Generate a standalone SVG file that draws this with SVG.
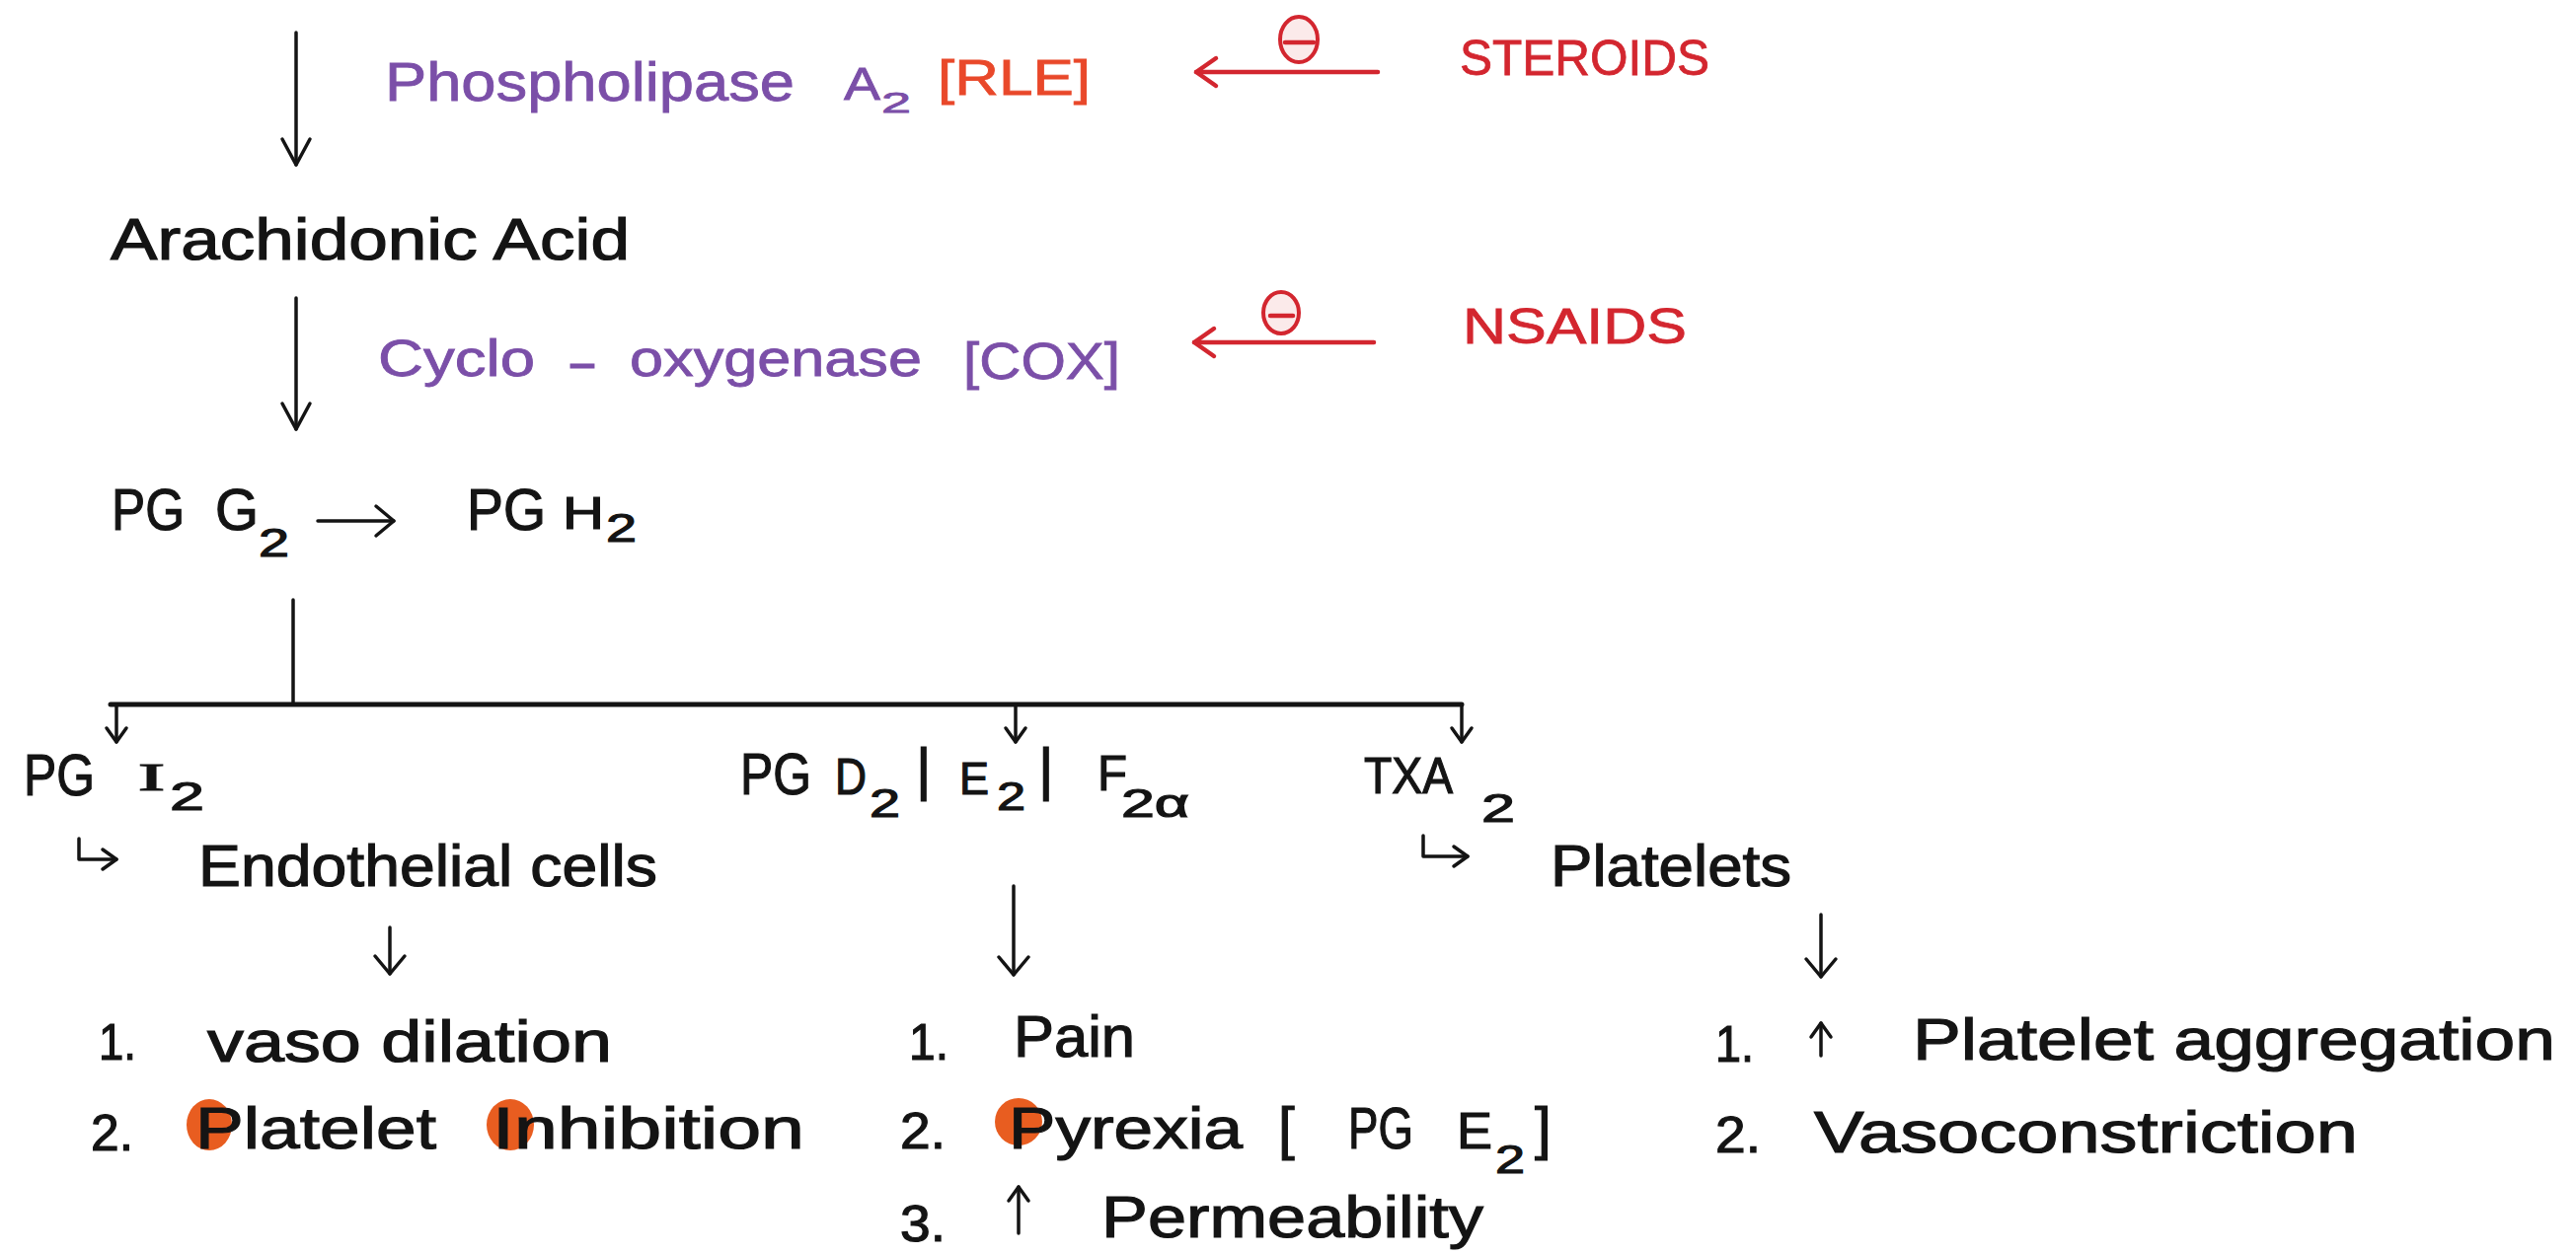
<svg xmlns="http://www.w3.org/2000/svg" width="2610" height="1271" viewBox="0 0 2610 1271">
<style>
text{font-family:"Liberation Sans",Arial,sans-serif;fill:#141414;stroke:#141414;stroke-width:1.2}
.p{fill:#7b4fa8;stroke:#7b4fa8;stroke-width:0.8}
.o{fill:#e9482a;stroke:#e9482a;stroke-width:0.8}
.r{fill:#d3262f;stroke:#d3262f;stroke-width:0.8}
.f60{font-size:60px}
.f56{font-size:56px}
.f52{font-size:52px}
.f50{font-size:50px}
.f46{font-size:46px}
.f40{font-size:40px}
.f36{font-size:36px}
.f30{font-size:30px}
.ln{fill:none;stroke:#141414;stroke-width:3.5;stroke-linecap:round;stroke-linejoin:round}
.bar{fill:none;stroke:#141414;stroke-width:5;stroke-linecap:round}
.rl{fill:none;stroke:#d3262f;stroke-width:4.5;stroke-linecap:round;stroke-linejoin:round}
.dot{fill:#e85d20}
</style>
<defs>
<marker id="ah" markerUnits="userSpaceOnUse" orient="auto" overflow="visible" markerWidth="1" markerHeight="1"><path d="M-26,-14 L0,0 L-26,14" fill="none" stroke="#141414" stroke-width="3.5" stroke-linecap="round" stroke-linejoin="round"/></marker>
<marker id="as" markerUnits="userSpaceOnUse" orient="auto" overflow="visible" markerWidth="1" markerHeight="1"><path d="M-18,-15 L0,0 L-18,15" fill="none" stroke="#141414" stroke-width="3.5" stroke-linecap="round" stroke-linejoin="round"/></marker>
<marker id="au" markerUnits="userSpaceOnUse" orient="auto" overflow="visible" markerWidth="1" markerHeight="1"><path d="M-14,-10 L0,0 L-14,10" fill="none" stroke="#141414" stroke-width="3.5" stroke-linecap="round" stroke-linejoin="round"/></marker>
<marker id="ar" markerUnits="userSpaceOnUse" orient="auto" overflow="visible" markerWidth="1" markerHeight="1"><path d="M-20,-14 L0,0 L-20,14" fill="none" stroke="#d3262f" stroke-width="4.5" stroke-linecap="round" stroke-linejoin="round"/></marker>
</defs>
<rect width="2610" height="1271" fill="#ffffff"/>

<g id="connectors">
<path class="ln" d="M300,33 V167" marker-end="url(#ah)"/>
<path class="ln" d="M300,302 V435" marker-end="url(#ah)"/>
<path class="rl" d="M1396,73 H1212" marker-end="url(#ar)"/>
<path class="rl" d="M1392,347 H1210" marker-end="url(#ar)"/>
<path class="ln" d="M322,528 H399" marker-end="url(#as)"/>
<path class="ln" d="M297,608 V714"/>
<path class="bar" d="M112,714 H1481"/>
<path class="ln" d="M118,714 V752" marker-end="url(#au)"/>
<path class="ln" d="M1029,714 V752" marker-end="url(#au)"/>
<path class="ln" d="M1481,714 V752" marker-end="url(#au)"/>
<path class="ln" d="M80,850 V871 H118" marker-end="url(#au)"/>
<path class="ln" d="M1442,847 V868 H1487" marker-end="url(#au)"/>
<path class="ln" d="M395,940 V987" marker-end="url(#as)"/>
<path class="ln" d="M1027,898 V988" marker-end="url(#as)"/>
<path class="ln" d="M1845,927 V990" marker-end="url(#as)"/>
<path class="ln" d="M1032,1250 V1203" marker-end="url(#au)"/>
<path class="ln" d="M1845,1070 V1037" marker-end="url(#au)"/>
</g>

<g id="inhibit-steroids">
<ellipse cx="1316" cy="40" rx="19" ry="23" fill="#fbeaea" stroke="#d3262f" stroke-width="4"/>
<path class="rl" d="M1302,43 H1331"/>
</g>
<g id="inhibit-nsaids">
<ellipse cx="1298" cy="317" rx="18" ry="21" fill="#fbeaea" stroke="#d3262f" stroke-width="4"/>
<path class="rl" d="M1287,320 H1310"/>
</g>

<g id="phospholipase">
<text class="p f56" x="390" y="102" textLength="415" lengthAdjust="spacingAndGlyphs">Phospholipase</text>
<text class="p f46" x="855" y="101" textLength="37" lengthAdjust="spacingAndGlyphs">A</text>
<text class="p f30" x="893" y="114" textLength="30" lengthAdjust="spacingAndGlyphs">2</text>
<text class="o f50" x="950" y="96" textLength="155" lengthAdjust="spacingAndGlyphs">[RLE]</text>
</g>
<g id="steroids"><text class="r f50" x="1479" y="76" textLength="253" lengthAdjust="spacingAndGlyphs">STEROIDS</text></g>
<g id="arachidonic"><text class="f60" x="112" y="263" textLength="526" lengthAdjust="spacingAndGlyphs">Arachidonic Acid</text></g>
<g id="cox">
<text class="p f52" x="383" y="381" textLength="159" lengthAdjust="spacingAndGlyphs">Cyclo</text>
<text class="p f52" x="574" y="385" textLength="32" lengthAdjust="spacingAndGlyphs">-</text>
<text class="p f52" x="638" y="381" textLength="296" lengthAdjust="spacingAndGlyphs">oxygenase</text>
<text class="p f52" x="976" y="384" textLength="159" lengthAdjust="spacingAndGlyphs">[COX]</text>
</g>
<g id="nsaids"><text class="r f50" x="1482" y="348" textLength="227" lengthAdjust="spacingAndGlyphs">NSAIDS</text></g>
<g id="pgg2">
<text class="f60" x="113" y="537" textLength="74" lengthAdjust="spacingAndGlyphs">PG</text>
<text class="f60" x="218" y="537" textLength="44" lengthAdjust="spacingAndGlyphs">G</text>
<text class="f40" x="262" y="564" textLength="31" lengthAdjust="spacingAndGlyphs">2</text>
</g>
<g id="pgh2">
<text class="f60" x="473" y="537" textLength="80" lengthAdjust="spacingAndGlyphs">PG</text>
<text class="f46" x="570" y="536" textLength="42" lengthAdjust="spacingAndGlyphs">H</text>
<text class="f40" x="614" y="549" textLength="31" lengthAdjust="spacingAndGlyphs">2</text>
</g>
<g id="pgi2">
<text class="f60" x="24" y="806" textLength="72" lengthAdjust="spacingAndGlyphs">PG</text>
<text class="f40" x="140" y="801" textLength="27" lengthAdjust="spacingAndGlyphs" style="font-family:'Liberation Serif',serif">I</text>
<text class="f40" x="172" y="821" textLength="35" lengthAdjust="spacingAndGlyphs">2</text>
</g>
<g id="endothelial"><text class="f60" x="201" y="898" textLength="465" lengthAdjust="spacingAndGlyphs">Endothelial cells</text></g>
<g id="pgd2">
<text class="f60" x="750" y="805" textLength="72" lengthAdjust="spacingAndGlyphs">PG</text>
<text class="f52" x="846" y="805" textLength="32" lengthAdjust="spacingAndGlyphs">D</text>
<text class="f40" x="881" y="828" textLength="31" lengthAdjust="spacingAndGlyphs">2</text>
<text class="f60" x="928" y="800">|</text>
<text class="f46" x="972" y="805" textLength="30" lengthAdjust="spacingAndGlyphs">E</text>
<text class="f40" x="1010" y="821" textLength="29" lengthAdjust="spacingAndGlyphs">2</text>
<text class="f60" x="1052" y="800">|</text>
<text class="f50" x="1112" y="801" textLength="30" lengthAdjust="spacingAndGlyphs">F</text>
<text class="f40" x="1136" y="828" textLength="69" lengthAdjust="spacingAndGlyphs">2α</text>
</g>
<g id="txa2">
<text class="f52" x="1382" y="804" textLength="90" lengthAdjust="spacingAndGlyphs">TXA</text>
<text class="f40" x="1501" y="833" textLength="34" lengthAdjust="spacingAndGlyphs">2</text>
</g>
<g id="platelets"><text class="f60" x="1571" y="898" textLength="244" lengthAdjust="spacingAndGlyphs">Platelets</text></g>

<g id="pgi2-effects">
<text class="f52" x="100" y="1074" textLength="38" lengthAdjust="spacingAndGlyphs">1.</text>
<text class="f60" x="210" y="1076" textLength="410" lengthAdjust="spacingAndGlyphs">vaso dilation</text>
<text class="f52" x="92" y="1166" textLength="43" lengthAdjust="spacingAndGlyphs">2.</text>
<ellipse class="dot" cx="212" cy="1140" rx="23" ry="26"/>
<ellipse class="dot" cx="517" cy="1140" rx="24" ry="26"/>
<text class="f60" x="198" y="1164" textLength="244" lengthAdjust="spacingAndGlyphs">Platelet</text>
<text class="f60" x="499" y="1164" textLength="316" lengthAdjust="spacingAndGlyphs">Inhibition</text>
</g>
<g id="pgd2-effects">
<text class="f52" x="921" y="1074" textLength="40" lengthAdjust="spacingAndGlyphs">1.</text>
<text class="f60" x="1027" y="1071" textLength="123" lengthAdjust="spacingAndGlyphs">Pain</text>
<text class="f52" x="912" y="1164" textLength="46" lengthAdjust="spacingAndGlyphs">2.</text>
<ellipse class="dot" cx="1032" cy="1137" rx="24" ry="24"/>
<text class="f60" x="1022" y="1164" textLength="237" lengthAdjust="spacingAndGlyphs">Pyrexia</text>
<text class="f60" x="1295" y="1164">[</text>
<text class="f60" x="1366" y="1164" textLength="66" lengthAdjust="spacingAndGlyphs">PG</text>
<text class="f52" x="1476" y="1164" textLength="36" lengthAdjust="spacingAndGlyphs">E</text>
<text class="f40" x="1515" y="1189" textLength="30" lengthAdjust="spacingAndGlyphs">2</text>
<text class="f60" x="1555" y="1164">]</text>
<text class="f52" x="912" y="1258" textLength="46" lengthAdjust="spacingAndGlyphs">3.</text>
<text class="f60" x="1116" y="1254" textLength="387" lengthAdjust="spacingAndGlyphs">Permeability</text>
</g>
<g id="txa2-effects">
<text class="f52" x="1738" y="1076" textLength="39" lengthAdjust="spacingAndGlyphs">1.</text>
<text class="f60" x="1938" y="1074" textLength="651" lengthAdjust="spacingAndGlyphs">Platelet aggregation</text>
<text class="f52" x="1738" y="1168" textLength="46" lengthAdjust="spacingAndGlyphs">2.</text>
<text class="f60" x="1838" y="1168" textLength="551" lengthAdjust="spacingAndGlyphs">Vasoconstriction</text>
</g>
</svg>
